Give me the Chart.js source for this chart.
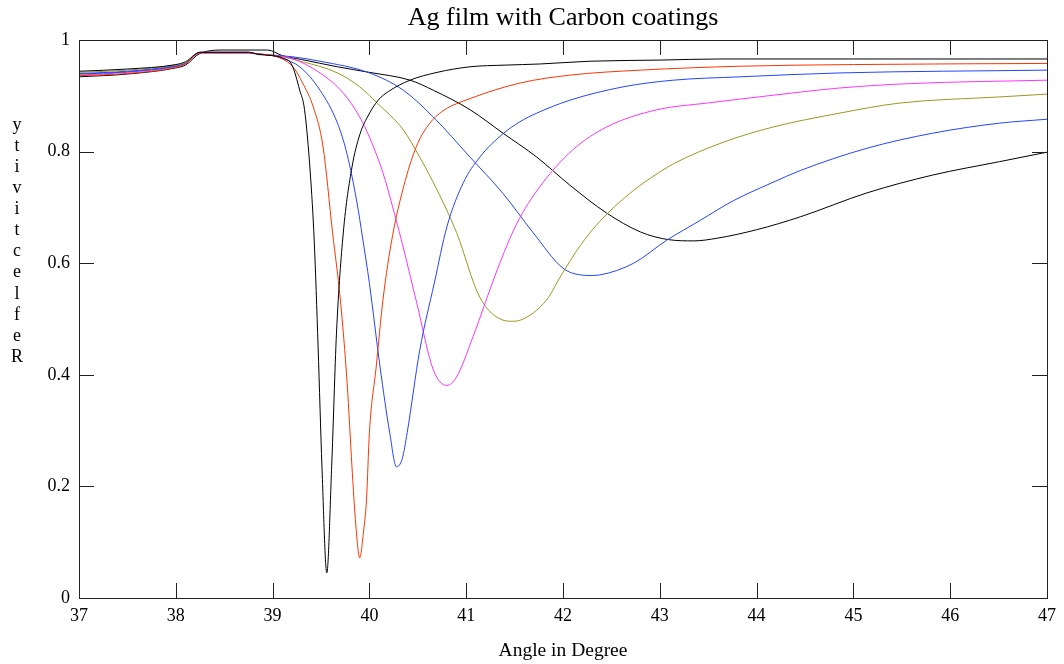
<!DOCTYPE html>
<html>
<head>
<meta charset="utf-8">
<script src="https://cdn.jsdelivr.net/npm/chart.js@4.4.1/dist/chart.umd.min.js"></script>
<style>
  html, body { margin: 0; padding: 0; background: #fff; }
  #wrap { width: 1064px; height: 664px; }
</style>
</head>
<body>
<div id="wrap"><canvas id="chart"></canvas></div>
<script>
// angle (deg) / reflectivity pairs, one pair of arrays per coating
const angles1 = [37, 37.5, 38, 38.1, 38.25, 38.75, 38.85, 39.0, 39.1, 39.2, 39.28, 39.33, 39.39, 39.43, 39.47, 39.51, 39.56, 39.61, 39.66, 39.73, 39.82, 39.9, 39.98, 40.09, 40.2, 40.42, 40.7, 41.04, 41.4, 41.76, 42.28, 43.0, 43.62, 45, 47];
const refl1   = [0.944, 0.948, 0.956, 0.961, 0.978, 0.978, 0.974, 0.972, 0.968, 0.955, 0.91, 0.875, 0.76, 0.64, 0.45, 0.235, 0.045, 0.235, 0.475, 0.654, 0.772, 0.83, 0.862, 0.892, 0.908, 0.928, 0.942, 0.952, 0.955, 0.957, 0.962, 0.964, 0.966, 0.966, 0.966];

const angles2 = [37, 37.5, 38, 38.1, 38.25, 38.75, 38.85, 39.0, 39.1, 39.21, 39.31, 39.42, 39.52, 39.62, 39.7, 39.77, 39.82, 39.86, 39.9, 39.94, 39.97, 40.0, 40.07, 40.14, 40.24, 40.39, 40.5, 40.62, 40.76, 41.04, 41.56, 42.07, 42.8, 43.83, 45, 47];
const refl2   = [0.936, 0.940, 0.951, 0.957, 0.977, 0.977, 0.975, 0.972, 0.966, 0.952, 0.923, 0.880, 0.81, 0.654, 0.534, 0.385, 0.235, 0.13, 0.072, 0.12, 0.176, 0.296, 0.414, 0.534, 0.65, 0.76, 0.815, 0.85, 0.873, 0.895, 0.923, 0.937, 0.946, 0.953, 0.956, 0.958];

const angles3 = [37, 37.5, 38, 38.1, 38.25, 38.75, 38.85, 39.0, 39.1, 39.28, 39.49, 39.67, 39.77, 39.87, 39.93, 40.0, 40.11, 40.21, 40.28, 40.34, 40.39, 40.52, 40.67, 40.8, 40.97, 41.14, 41.38, 41.55, 41.73, 42.07, 42.62, 43.14, 43.83, 44.86, 47];
const refl3   = [0.939, 0.943, 0.953, 0.958, 0.977, 0.977, 0.975, 0.972, 0.967, 0.952, 0.910, 0.851, 0.795, 0.71, 0.645, 0.564, 0.414, 0.296, 0.235, 0.25, 0.296, 0.444, 0.564, 0.665, 0.744, 0.790, 0.832, 0.853, 0.869, 0.892, 0.916, 0.928, 0.934, 0.941, 0.946];

const angles4 = [37, 37.5, 38, 38.1, 38.25, 38.75, 38.85, 39.0, 39.18, 39.49, 39.73, 39.9, 40.0, 40.14, 40.24, 40.34, 40.49, 40.66, 40.8, 40.9, 41.07, 41.32, 41.52, 41.76, 42.1, 42.45, 42.97, 43.49, 44.17, 44.86, 45.6, 47];
const refl4   = [0.937, 0.942, 0.952, 0.957, 0.977, 0.977, 0.975, 0.972, 0.968, 0.941, 0.905, 0.862, 0.826, 0.762, 0.701, 0.635, 0.528, 0.409, 0.381, 0.396, 0.468, 0.588, 0.67, 0.737, 0.803, 0.844, 0.875, 0.887, 0.901, 0.914, 0.922, 0.928];

const angles5 = [37, 37.5, 38, 38.1, 38.25, 38.75, 38.85, 39.0, 39.31, 39.67, 39.9, 40.08, 40.35, 40.52, 40.7, 40.9, 41.14, 41.38, 41.47, 41.56, 41.83, 41.97, 42.18, 42.38, 42.69, 42.9, 43.14, 43.66, 44.17, 44.86, 45.48, 46.51, 47];
const refl5   = [0.942, 0.946, 0.955, 0.959, 0.978, 0.978, 0.975, 0.973, 0.961, 0.941, 0.916, 0.887, 0.839, 0.790, 0.731, 0.655, 0.539, 0.498, 0.496, 0.498, 0.534, 0.575, 0.632, 0.675, 0.725, 0.752, 0.778, 0.817, 0.844, 0.869, 0.887, 0.898, 0.903];

const angles6 = [37, 37.5, 38, 38.1, 38.25, 38.75, 38.85, 39.0, 39.2, 39.49, 40.0, 40.35, 40.66, 41.04, 41.38, 41.69, 42.0, 42.18, 42.28, 42.38, 42.73, 43.07, 43.42, 43.76, 44.17, 44.45, 45.14, 45.82, 46.51, 47];
const refl6   = [0.940, 0.944, 0.954, 0.958, 0.978, 0.978, 0.975, 0.973, 0.970, 0.962, 0.941, 0.910, 0.862, 0.790, 0.725, 0.655, 0.591, 0.579, 0.578, 0.579, 0.600, 0.641, 0.677, 0.712, 0.745, 0.766, 0.806, 0.833, 0.851, 0.858];

const angles7 = [37, 37.5, 38, 38.1, 38.25, 38.5, 38.95, 39.1, 39.3, 39.67, 40.0, 40.42, 40.66, 41.04, 41.38, 41.73, 42.07, 42.45, 42.8, 43.1, 43.35, 43.6, 44.0, 44.45, 45.14, 45.82, 46.51, 47];
const refl7   = [0.934, 0.939, 0.950, 0.955, 0.976, 0.982, 0.982, 0.972, 0.965, 0.952, 0.942, 0.928, 0.910, 0.875, 0.833, 0.790, 0.740, 0.690, 0.656, 0.642, 0.640, 0.645, 0.660, 0.683, 0.726, 0.758, 0.782, 0.799];

const lineColors = ['#000000', '#ff3300', '#2244ff', '#ff33ff', '#999922', '#2244ff', '#000000'];
const xTicks = [37, 38, 39, 40, 41, 42, 43, 44, 45, 46, 47];
const yTicks = [0, 0.2, 0.4, 0.6, 0.8, 1];
const chartTitle = 'Ag film with Carbon coatings';
const yTitle = 'Reflectivity';

const series = [
  [angles1, refl1], [angles2, refl2], [angles3, refl3], [angles4, refl4],
  [angles5, refl5], [angles6, refl6], [angles7, refl7]
];

const serif = '"Liberation Serif", "Times New Roman", serif';

// box, inside tick marks on all four sides, title over the plot, stacked y title
const frame = {
  id: 'frame',
  afterDatasetsDraw(chart) {
    const { ctx, chartArea: a, scales: { x, y } } = chart;
    ctx.save();
    ctx.strokeStyle = '#222';
    ctx.lineWidth = 1;
    ctx.beginPath();
    xTicks.forEach(v => {
      const px = Math.round(x.getPixelForValue(v)) + 0.5;
      ctx.moveTo(px, a.bottom); ctx.lineTo(px, a.bottom - 15);
      ctx.moveTo(px, a.top); ctx.lineTo(px, a.top + 15);
    });
    yTicks.forEach(v => {
      const py = Math.round(y.getPixelForValue(v)) + 0.5;
      ctx.moveTo(a.left, py); ctx.lineTo(a.left + 15, py);
      ctx.moveTo(a.right, py); ctx.lineTo(a.right - 15, py);
    });
    ctx.stroke();
    ctx.strokeRect(Math.round(a.left) + 0.5, Math.round(a.top) + 0.5,
                   Math.round(a.right - a.left), Math.round(a.bottom - a.top));

    ctx.fillStyle = '#000';
    ctx.textAlign = 'center';
    ctx.textBaseline = 'middle';
    ctx.font = '26px ' + serif;
    ctx.fillText(chartTitle, (a.left + a.right) / 2, 18);

    ctx.font = '18px ' + serif;
    yTitle.split('').reverse().forEach((ch, i) => {
      ctx.fillText(ch, 17, 125 + i * 21.1);
    });
    ctx.restore();
  }
};

new Chart(document.getElementById('chart'), {
  type: 'line',
  data: {
    datasets: series.map(([xs, ys], i) => ({
      data: xs.map((v, k) => ({ x: v, y: ys[k] })),
      borderColor: lineColors[i],
      borderWidth: 1,
      pointRadius: 0,
      fill: false,
      cubicInterpolationMode: 'monotone'
    }))
  },
  options: {
    responsive: true,
    maintainAspectRatio: false,
    animation: false,
    layout: { padding: { left: 0, right: 17, top: 40, bottom: 0 } },
    plugins: {
      legend: { display: false },
      tooltip: { enabled: false },
      title: { display: false }
    },
    scales: {
      x: {
        type: 'linear',
        min: 37, max: 47,
        grid: { display: false, drawTicks: false },
        border: { display: false },
        afterBuildTicks: s => { s.ticks = xTicks.map(v => ({ value: v })); },
        ticks: { color: '#000', font: { family: serif, size: 18 }, padding: 7, maxRotation: 0 },
        title: {
          display: true,
          text: 'Angle in Degree',
          color: '#000',
          font: { family: serif, size: 19.5 },
          padding: { top: 0, bottom: 1 }
        },
        afterFit: s => { s.height = 66; }
      },
      y: {
        min: 0, max: 1,
        grid: { display: false, drawTicks: false },
        border: { display: false },
        afterBuildTicks: s => { s.ticks = yTicks.map(v => ({ value: v })); },
        ticks: { color: '#000', font: { family: serif, size: 18 }, padding: 9, callback: v => String(v) },
        afterFit: s => { s.width = 79; }
      }
    }
  },
  plugins: [frame]
});
</script>
</body>
</html>
